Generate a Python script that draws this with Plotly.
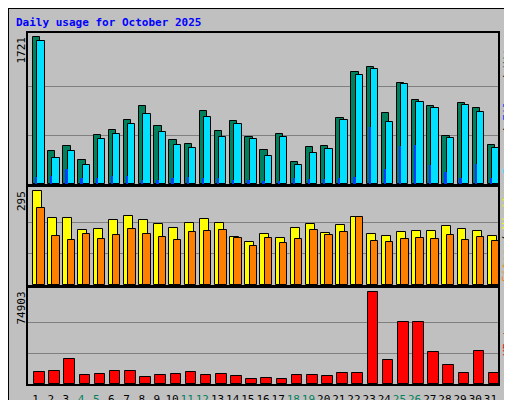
import plotly.graph_objects as go

days = list(range(1, 32))
weekend = [4, 5, 11, 12, 18, 19, 25, 26]

hits = [1721, 386, 445, 281, 574, 632, 749, 913, 679, 515, 468, 854, 620, 737, 550, 398,
        585, 257, 433, 445, 772, 1310, 1369, 831, 1182, 983, 913, 562, 948, 889, 456]
files = [1673, 304, 386, 222, 527, 585, 702, 819, 608, 456, 421, 784, 550, 702, 527, 328,
         550, 222, 363, 410, 749, 1275, 1345, 725, 1170, 959, 889, 538, 924, 842, 421]
pages = [82, 94, 175, 70, 70, 94, 94, 47, 47, 70, 82, 70, 70, 47, 47, 35,
         35, 70, 59, 59, 70, 82, 667, 175, 445, 456, 222, 140, 70, 234, 70]
visits = [295, 211, 211, 174, 177, 203, 218, 203, 190, 180, 196, 206, 196, 151, 135, 161,
          148, 180, 193, 164, 187, 212, 161, 155, 168, 171, 171, 184, 177, 171, 155]
sites = [241, 155, 142, 161, 145, 158, 177, 161, 152, 142, 168, 171, 174, 149, 123, 149,
         132, 145, 174, 158, 168, 215, 139, 136, 145, 149, 145, 158, 142, 152, 139]
kbytes = [9533, 10350, 20155, 7082, 7899, 10350, 10350, 5448, 7082, 7899, 9533, 7082, 7899,
          6265, 3813, 4630, 3813, 7082, 7082, 6265, 8716, 8716, 74903, 19338, 50389, 50389,
          25875, 15253, 8716, 26693, 8716]

GREEN = "#00805C"
CYAN = "#00E0FF"
BLUE = "#0040FF"
ORANGE = "#FF8000"
YELLOW = "#FFFF00"
RED = "#FF0000"
FONT = "DejaVu Sans Mono"

fig = go.Figure()
line = dict(color="black", width=1)

fig.add_trace(go.Bar(x=days, y=hits, width=0.48, offset=-0.17, marker=dict(color=GREEN, line=line),
                     xaxis="x", yaxis="y"))
fig.add_trace(go.Bar(x=days, y=files, width=0.48, offset=0.11, marker=dict(color=CYAN, line=line),
                     xaxis="x", yaxis="y"))
fig.add_trace(go.Bar(x=days, y=pages, width=0.15, offset=-0.04, marker=dict(color=BLUE, line_width=0),
                     xaxis="x", yaxis="y"))
fig.add_trace(go.Bar(x=days, y=visits, width=0.59, offset=-0.17, marker=dict(color=YELLOW, line=line),
                     xaxis="x2", yaxis="y2"))
fig.add_trace(go.Bar(x=days, y=sites, width=0.49, offset=0.11, marker=dict(color=ORANGE, line=line),
                     xaxis="x2", yaxis="y2"))
fig.add_trace(go.Bar(x=days, y=kbytes, width=0.7, offset=-0.1, marker=dict(color=RED, line=line),
                     xaxis="x3", yaxis="y3"))

xdom = [20 / 512, 490 / 512]
ticktext = ['<span style="color:%s">%d</span>' % (GREEN if d in weekend else "black", d) for d in days]
common_x = dict(domain=xdom, range=[0.5, 31.5], showgrid=False, zeroline=False, fixedrange=True,
                showline=True, mirror=True, linecolor="black", linewidth=2, automargin=False)
fig.update_layout(
    xaxis=dict(common_x, anchor="y", showticklabels=False),
    xaxis2=dict(common_x, anchor="y2", showticklabels=False),
    xaxis3=dict(common_x, anchor="y3", tickvals=days, ticktext=ticktext, ticks="",
                tickangle=0, ticklabelstandoff=4, tickfont=dict(family=FONT, size=11)),
)

def yax(dom, mx, scale, anchor):
    return dict(domain=dom, anchor=anchor, range=[0, mx * scale], tickvals=[mx / 3, 2 * mx / 3],
                showticklabels=False, gridcolor="#808080", gridwidth=1, zeroline=False,
                showline=True, mirror=True, linecolor="black", linewidth=2, automargin=False)

fig.update_layout(
    yaxis=yax([1 - 176 / 400, 1 - 25 / 400], max(hits), 151 / 147, "x"),
    yaxis2=yax([1 - 277 / 400, 1 - 179 / 400], max(visits), 96.7 / 92.7, "x2"),
    yaxis3=yax([1 - 376 / 400, 1 - 280 / 400], max(kbytes), 95.7 / 91.7, "x3"),
    width=512, height=400, margin=dict(l=0, r=0, t=0, b=0, autoexpand=False),
    paper_bgcolor="#C0C0C0", plot_bgcolor="#C0C0C0",
    showlegend=False, bargap=0,
    font=dict(family=FONT, size=11, color="black"),
)

ann = [
    dict(x=6 / 512, y=1 - 15 / 400, xanchor="left", yanchor="middle",
         text="<b>Daily usage for October 2025</b>", font=dict(color="#0000FF", size=11)),
    dict(x=13 / 512, y=1 - 27 / 400, xanchor="center", yanchor="top", textangle=-90,
         text=str(max(hits)), font=dict(size=11)),
    dict(x=13 / 512, y=1 - 181 / 400, xanchor="center", yanchor="top", textangle=-90,
         text=str(max(visits)), font=dict(size=11)),
    dict(x=13 / 512, y=1 - 282 / 400, xanchor="center", yanchor="top", textangle=-90,
         text=str(max(kbytes)), font=dict(size=11)),
    dict(x=499 / 512, y=1 - 100 / 400, xanchor="center", yanchor="middle", textangle=-90,
         text='<span style="color:%s">Pages</span> / <span style="color:%s">Files</span> / '
              '<span style="color:%s">Hits</span>' % (CYAN, BLUE, GREEN), font=dict(size=11)),
    dict(x=499 / 512, y=1 - 228 / 400, xanchor="center", yanchor="middle", textangle=-90,
         text='<span style="color:%s">Sites</span> / <span style="color:%s">Visits</span>'
              % (ORANGE, YELLOW), font=dict(size=11)),
    dict(x=499 / 512, y=1 - 328 / 400, xanchor="center", yanchor="middle", textangle=-90,
         text='<span style="color:%s">KBytes</span>' % RED, font=dict(size=11)),
]
fig.update_layout(annotations=[dict(a, xref="paper", yref="paper", showarrow=False) for a in ann])

# outer frame with shadow on right/bottom
fig.add_shape(type="rect", xref="paper", yref="paper", x0=0, y0=0, x1=1, y1=1,
              line=dict(color="black", width=2))
fig.add_shape(type="rect", xref="paper", yref="paper", x0=505 / 512, y0=0, x1=510 / 512, y1=1 - 5 / 400,
              fillcolor="#808080", line_width=0)
fig.add_shape(type="rect", xref="paper", yref="paper", x0=5 / 512, y0=2 / 400, x1=510 / 512, y1=7 / 400,
              fillcolor="#808080", line_width=0)

fig.write_html("out.html")
